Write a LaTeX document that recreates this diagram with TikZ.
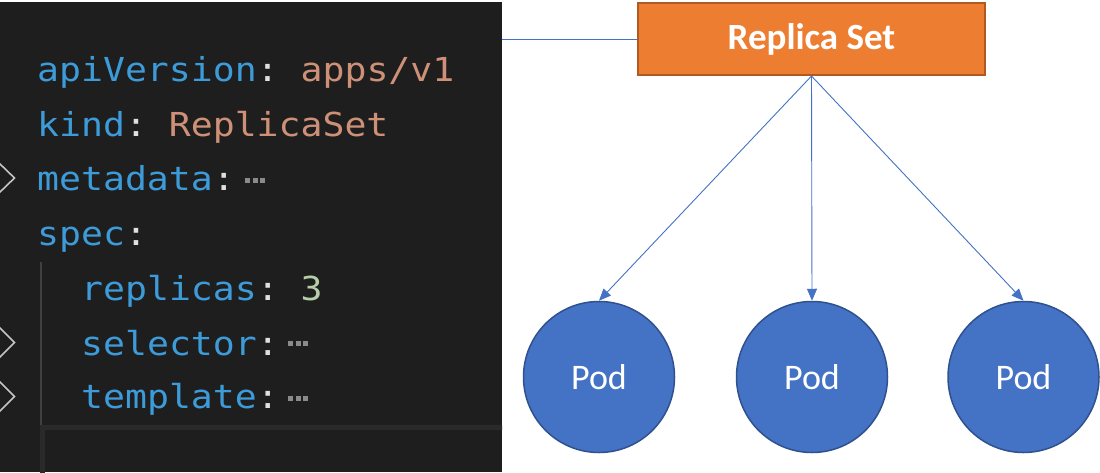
\documentclass[tikz,border=0pt]{standalone}
\usepackage{fontspec}
\usetikzlibrary{arrows.meta}
\newfontfamily\codefont[FakeStretch=1.105]{DejaVu Sans Mono}
\newfontfamily\calib{Carlito}
\definecolor{panel}{HTML}{1E1E1E}
\definecolor{keyc}{HTML}{3C9BD8}
\definecolor{strc}{HTML}{CE9178}
\definecolor{numc}{HTML}{B5CEA8}
\definecolor{punc}{HTML}{E0E0E0}
\definecolor{dotc}{HTML}{8A8A8A}
\definecolor{chev}{HTML}{C5C5C5}
\definecolor{guide}{HTML}{404040}
\definecolor{hilite}{HTML}{2A2A2A}
\definecolor{rsfill}{HTML}{ED7D31}
\definecolor{rsdraw}{HTML}{AE5A21}
\definecolor{podfill}{HTML}{4472C4}
\definecolor{poddraw}{HTML}{2F528F}
\definecolor{linkc}{HTML}{4472C4}
\newcommand\msp{\hbox to \fontcharwd\font`\a{}}
\begin{document}
\begin{tikzpicture}[x=1pt,y=-1pt,
  codeline/.style={anchor=base west, inner sep=0pt, font=\codefont\fontsize{33}{33}\selectfont},
  rsbox/.style={rectangle, fill=rsfill, draw=rsdraw, line width=2pt, minimum width=347pt, minimum height=72pt, inner sep=0pt, text=white, font=\calib\bfseries\fontsize{37}{37}\selectfont},
  pod/.style={circle, fill=podfill, draw=poddraw, line width=1.5pt, minimum size=151pt, inner sep=0pt, text=white, font=\calib\fontsize{36}{36}\selectfont},
  conn/.style={draw=linkc, line width=0.9pt, -{Triangle[length=12pt,width=10pt]}},
  link/.style={draw=linkc, line width=1pt},
  chevron/.style={draw=chev, line width=1.6pt},
  dot/.style={fill=dotc},
]
\useasboundingbox (0,0) rectangle (1100,472);
\fill[white] (0,0) rectangle (1100,472);
% code panel
\fill[panel] (0,2) rectangle (502,472);
\begin{scope}
\clip (0,2) rectangle (502,472);
\draw[guide, line width=2pt] (41,262) -- (41,425);
\draw[hilite, line width=5pt] (42.5,480) |- (520,427.5);
\end{scope}
% code lines
\node[codeline] (l1) at (37,81) {\textcolor{keyc}{apiVersion}\textcolor{punc}{:}\msp\textcolor{strc}{apps/v1}};
\node[codeline] (l2) at (37,136) {\textcolor{keyc}{kind}\textcolor{punc}{:}\msp\textcolor{strc}{ReplicaSet}};
\node[codeline] (l3) at (37,190.5) {\textcolor{keyc}{metadata}\textcolor{punc}{:}};
\node[codeline] (l4) at (37,245.5) {\textcolor{keyc}{spec}\textcolor{punc}{:}};
\node[codeline] (l5) at (81,300) {\textcolor{keyc}{replicas}\textcolor{punc}{:}\msp\textcolor{numc}{3}};
\node[codeline] (l6) at (81,355) {\textcolor{keyc}{selector}\textcolor{punc}{:}};
\node[codeline] (l7) at (81,408.5) {\textcolor{keyc}{template}\textcolor{punc}{:}};
% folded ellipses
\foreach \xx in {245,252.5,260} \fill[dot] (\xx,177.5) rectangle ++(5,5);
\foreach \xx in {288,295.5,303} \fill[dot] (\xx,341) rectangle ++(5,5);
\foreach \xx in {288,295.5,303} \fill[dot] (\xx,396) rectangle ++(5,5);
% chevrons
\draw[chevron] (-1,163) -- (14.5,178) -- (-1,193);
\draw[chevron] (-1,327) -- (14.5,342.5) -- (-1,358);
\draw[chevron] (-1,381) -- (14.5,396.5) -- (-1,412);
% diagram
\node[rsbox] (rs) at (811.5,39) {Replica Set};
\coordinate (pe) at (502,39);
\draw[link] (pe) -- (rs.west);
\node[pod] (p1) at (599,377) {Pod};
\node[pod] (p2) at (812,377) {Pod};
\node[pod] (p3) at (1023.5,377) {Pod};
\draw[conn] (rs.south) -- (p1.north);
\draw[conn] (rs.south) -- (p2.north);
\draw[conn] (rs.south) -- (p3.north);
\end{tikzpicture}
\end{document}
